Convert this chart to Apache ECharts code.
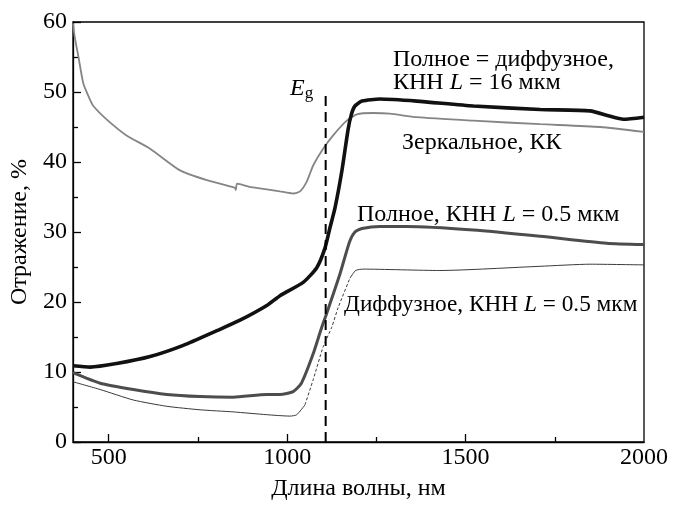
<!DOCTYPE html>
<html>
<head>
<meta charset="utf-8">
<script src="https://cdn.jsdelivr.net/npm/echarts@6/dist/echarts.min.js"></script>
<style>
  html, body { margin: 0; padding: 0; background: #fff; }
  #chart { width: 681px; height: 506px; }
</style>
</head>
<body>
<div id="chart"></div>
<script>
// Зеркальное, КК  [длина волны, %]
var specularKK = [
  [400, 59.8], [405, 57.8], [415, 55.1], [429, 51.2], [445, 49.2], [457, 48.0], [494, 46.1],
  [550, 43.8], [616, 41.9], [700, 38.8], [775, 37.4], [854, 36.3], [856, 36.0], [860, 36.9],
  [900, 36.4], [943, 36.1], [980, 35.8], [1017, 35.5], [1036, 35.8], [1055, 37.2],
  [1073, 39.5], [1101, 41.9], [1129, 43.8], [1167, 45.9], [1195, 46.8], [1241, 47.0],
  [1288, 46.9], [1363, 46.4], [1522, 45.9], [1709, 45.4], [1877, 45.0], [2000, 44.3]
];
// Полное = диффузное, КНН L = 16 мкм
var total16 = [
  [400, 10.9], [448, 10.7], [522, 11.2], [616, 12.2], [709, 13.8], [803, 15.9],
  [868, 17.4], [943, 19.5], [980, 20.9], [1045, 22.8], [1083, 24.9], [1106, 27.7],
  [1120, 30.6], [1134, 33.4], [1153, 38.6], [1171, 44.7], [1180, 46.8], [1190, 48.0],
  [1210, 48.7], [1260, 49.0], [1363, 48.7], [1522, 48.0], [1709, 47.5], [1849, 47.3],
  [1900, 46.6], [1942, 46.1], [2000, 46.4]
];
// Полное, КНН L = 0.5 мкм
var total05 = [
  [400, 9.9], [476, 8.4], [569, 7.5], [663, 6.8], [756, 6.5], [849, 6.4], [943, 6.8],
  [980, 6.8], [1017, 7.2], [1040, 8.4], [1073, 12.6], [1097, 16.4], [1111, 18.4],
  [1148, 24.0], [1175, 28.6], [1190, 30.0], [1210, 30.5], [1260, 30.8], [1335, 30.8],
  [1522, 30.3], [1709, 29.4], [1895, 28.4], [2000, 28.2]
];
// Диффузное, КНН L = 0.5 мкм
var diffuse05 = [
  [400, 8.6], [476, 7.5], [569, 6.0], [663, 5.1], [756, 4.6], [849, 4.3], [943, 3.9],
  [1008, 3.7], [1027, 3.9], [1050, 5.3], [1073, 8.9], [1101, 13.6], [1125, 16.4],
  [1143, 19.2], [1176, 23.4], [1192, 24.5], [1213, 24.7], [1428, 24.5], [1709, 25.1],
  [1849, 25.4], [2000, 25.3]
];
// участок кривой, нарисованный пунктиром
var diffuseDotted = [1050, 1176];
// ширина запрещённой зоны
var egLine = [[1108, 0], [1108, 50.3]];

var xLabels = [500, 1000, 1500, 2000];
var xMajorTicks = [500, 1000, 1500];
var xMinorTicks = [750, 1250, 1750];

var serif = '"Liberation Serif", "DejaVu Serif", serif';

var chart = echarts.init(document.getElementById('chart'));

function curve(data, color, width, z, type) {
  return {
    type: 'line',
    data: data,
    symbol: 'none',
    smooth: 0.2,
    z: z,
    lineStyle: { color: color, width: width, type: type || 'solid' }
  };
}

function label(x, y, parts, sx) {
  var rich = {
    n: { fontFamily: serif, fontSize: 24, fill: '#000' },
    i: { fontFamily: serif, fontSize: 24, fontStyle: 'italic', fill: '#000' }
  };
  return {
    type: 'text', x: x, y: y, z: 11, scaleX: sx || 1, originX: 0,
    style: { text: parts, rich: rich, verticalAlign: 'middle', lineHeight: 23 }
  };
}

var diffLow = diffuse05.filter(function (p) { return p[0] <= diffuseDotted[0]; });
var diffMid = diffuse05.filter(function (p) { return p[0] >= diffuseDotted[0] && p[0] <= diffuseDotted[1]; });
var diffHigh = diffuse05.filter(function (p) { return p[0] >= diffuseDotted[1]; });

var option = {
  animation: false,
  backgroundColor: '#fff',
  grid: {
    left: 73, top: 22, right: 37, bottom: 60,
    show: true, borderColor: '#000', borderWidth: 1.3
  },
  xAxis: [{
    type: 'value',
    min: 400, max: 2000,
    name: 'Длина волны, нм',
    nameLocation: 'middle',
    nameGap: 35,
    nameTextStyle: { fontFamily: serif, fontSize: 24, color: '#000' },
    axisLine: { show: true, lineStyle: { color: '#000', width: 1.3 } },
    axisTick: { show: true, inside: true, length: 8, customValues: xMajorTicks,
      lineStyle: { color: '#000', width: 1.3 } },
    axisLabel: { fontFamily: serif, fontSize: 24, color: '#000', margin: 4, customValues: xLabels,
      formatter: function (v) { return String(v); } },
    splitLine: { show: false }
  }, {
    type: 'value',
    position: 'bottom',
    min: 400, max: 2000,
    axisLine: { show: false },
    axisTick: { show: true, inside: true, length: 5, customValues: xMinorTicks,
      lineStyle: { color: '#000', width: 1.3 } },
    axisLabel: { show: false },
    splitLine: { show: false }
  }],
  yAxis: {
    type: 'value',
    min: 0, max: 60, interval: 10,
    name: 'Отражение, %',
    nameLocation: 'middle',
    nameGap: 37,
    nameTextStyle: { fontFamily: serif, fontSize: 24, color: '#000' },
    axisLine: { show: true, lineStyle: { color: '#000', width: 1.3 } },
    axisTick: { show: true, inside: true, length: 8, lineStyle: { color: '#000', width: 1.3 } },
    minorTick: { show: true, splitNumber: 2, length: 5, lineStyle: { color: '#000', width: 1.3 } },
    axisLabel: { fontFamily: serif, fontSize: 24, color: '#000', margin: 6 },
    splitLine: { show: false }
  },
  series: [
    curve(specularKK, '#858585', 1.8, 2),
    curve(diffLow, '#3a3a3a', 1, 3),
    curve(diffMid, '#3a3a3a', 1, 3, [3, 2]),
    curve(diffHigh, '#3a3a3a', 1, 3),
    curve(total05, '#4d4d4d', 3, 4),
    curve(total16, '#111', 3.6, 5),
    {
      type: 'line',
      data: egLine,
      symbol: 'none',
      z: 6,
      lineStyle: { color: '#000', width: 2, type: [10, 6] }
    }
  ],
  graphic: [
    {
      type: 'text', x: 290, y: 89, z: 11,
      style: {
        text: '{e|E}{g|g}',
        verticalAlign: 'middle',
        rich: {
          e: { fontFamily: serif, fontSize: 24, fontStyle: 'italic', fill: '#000' },
          g: { fontFamily: serif, fontSize: 17, fill: '#000', padding: [10, 0, 0, 0] }
        }
      }
    },
    label(393, 71, '{n|Полное = диффузное,}\n{n|КНН }{i|L}{n| = 16 мкм}'),
    { type: 'rect', z: 10, shape: { x: 398, y: 130, width: 172, height: 27 }, style: { fill: '#fff' } },
    label(402, 143, '{n|Зеркальное, КК}'),
    label(357, 215, '{n|Полное, КНН }{i|L}{n| = 0.5 мкм}'),
    { type: 'rect', z: 10, shape: { x: 346, y: 292, width: 294, height: 27 }, style: { fill: '#fff' } },
    label(344, 305, '{n|Диффузное, КНН }{i|L}{n| = 0.5 мкм}', 0.97)
  ]
};
chart.setOption(option);
</script>
</body>
</html>
